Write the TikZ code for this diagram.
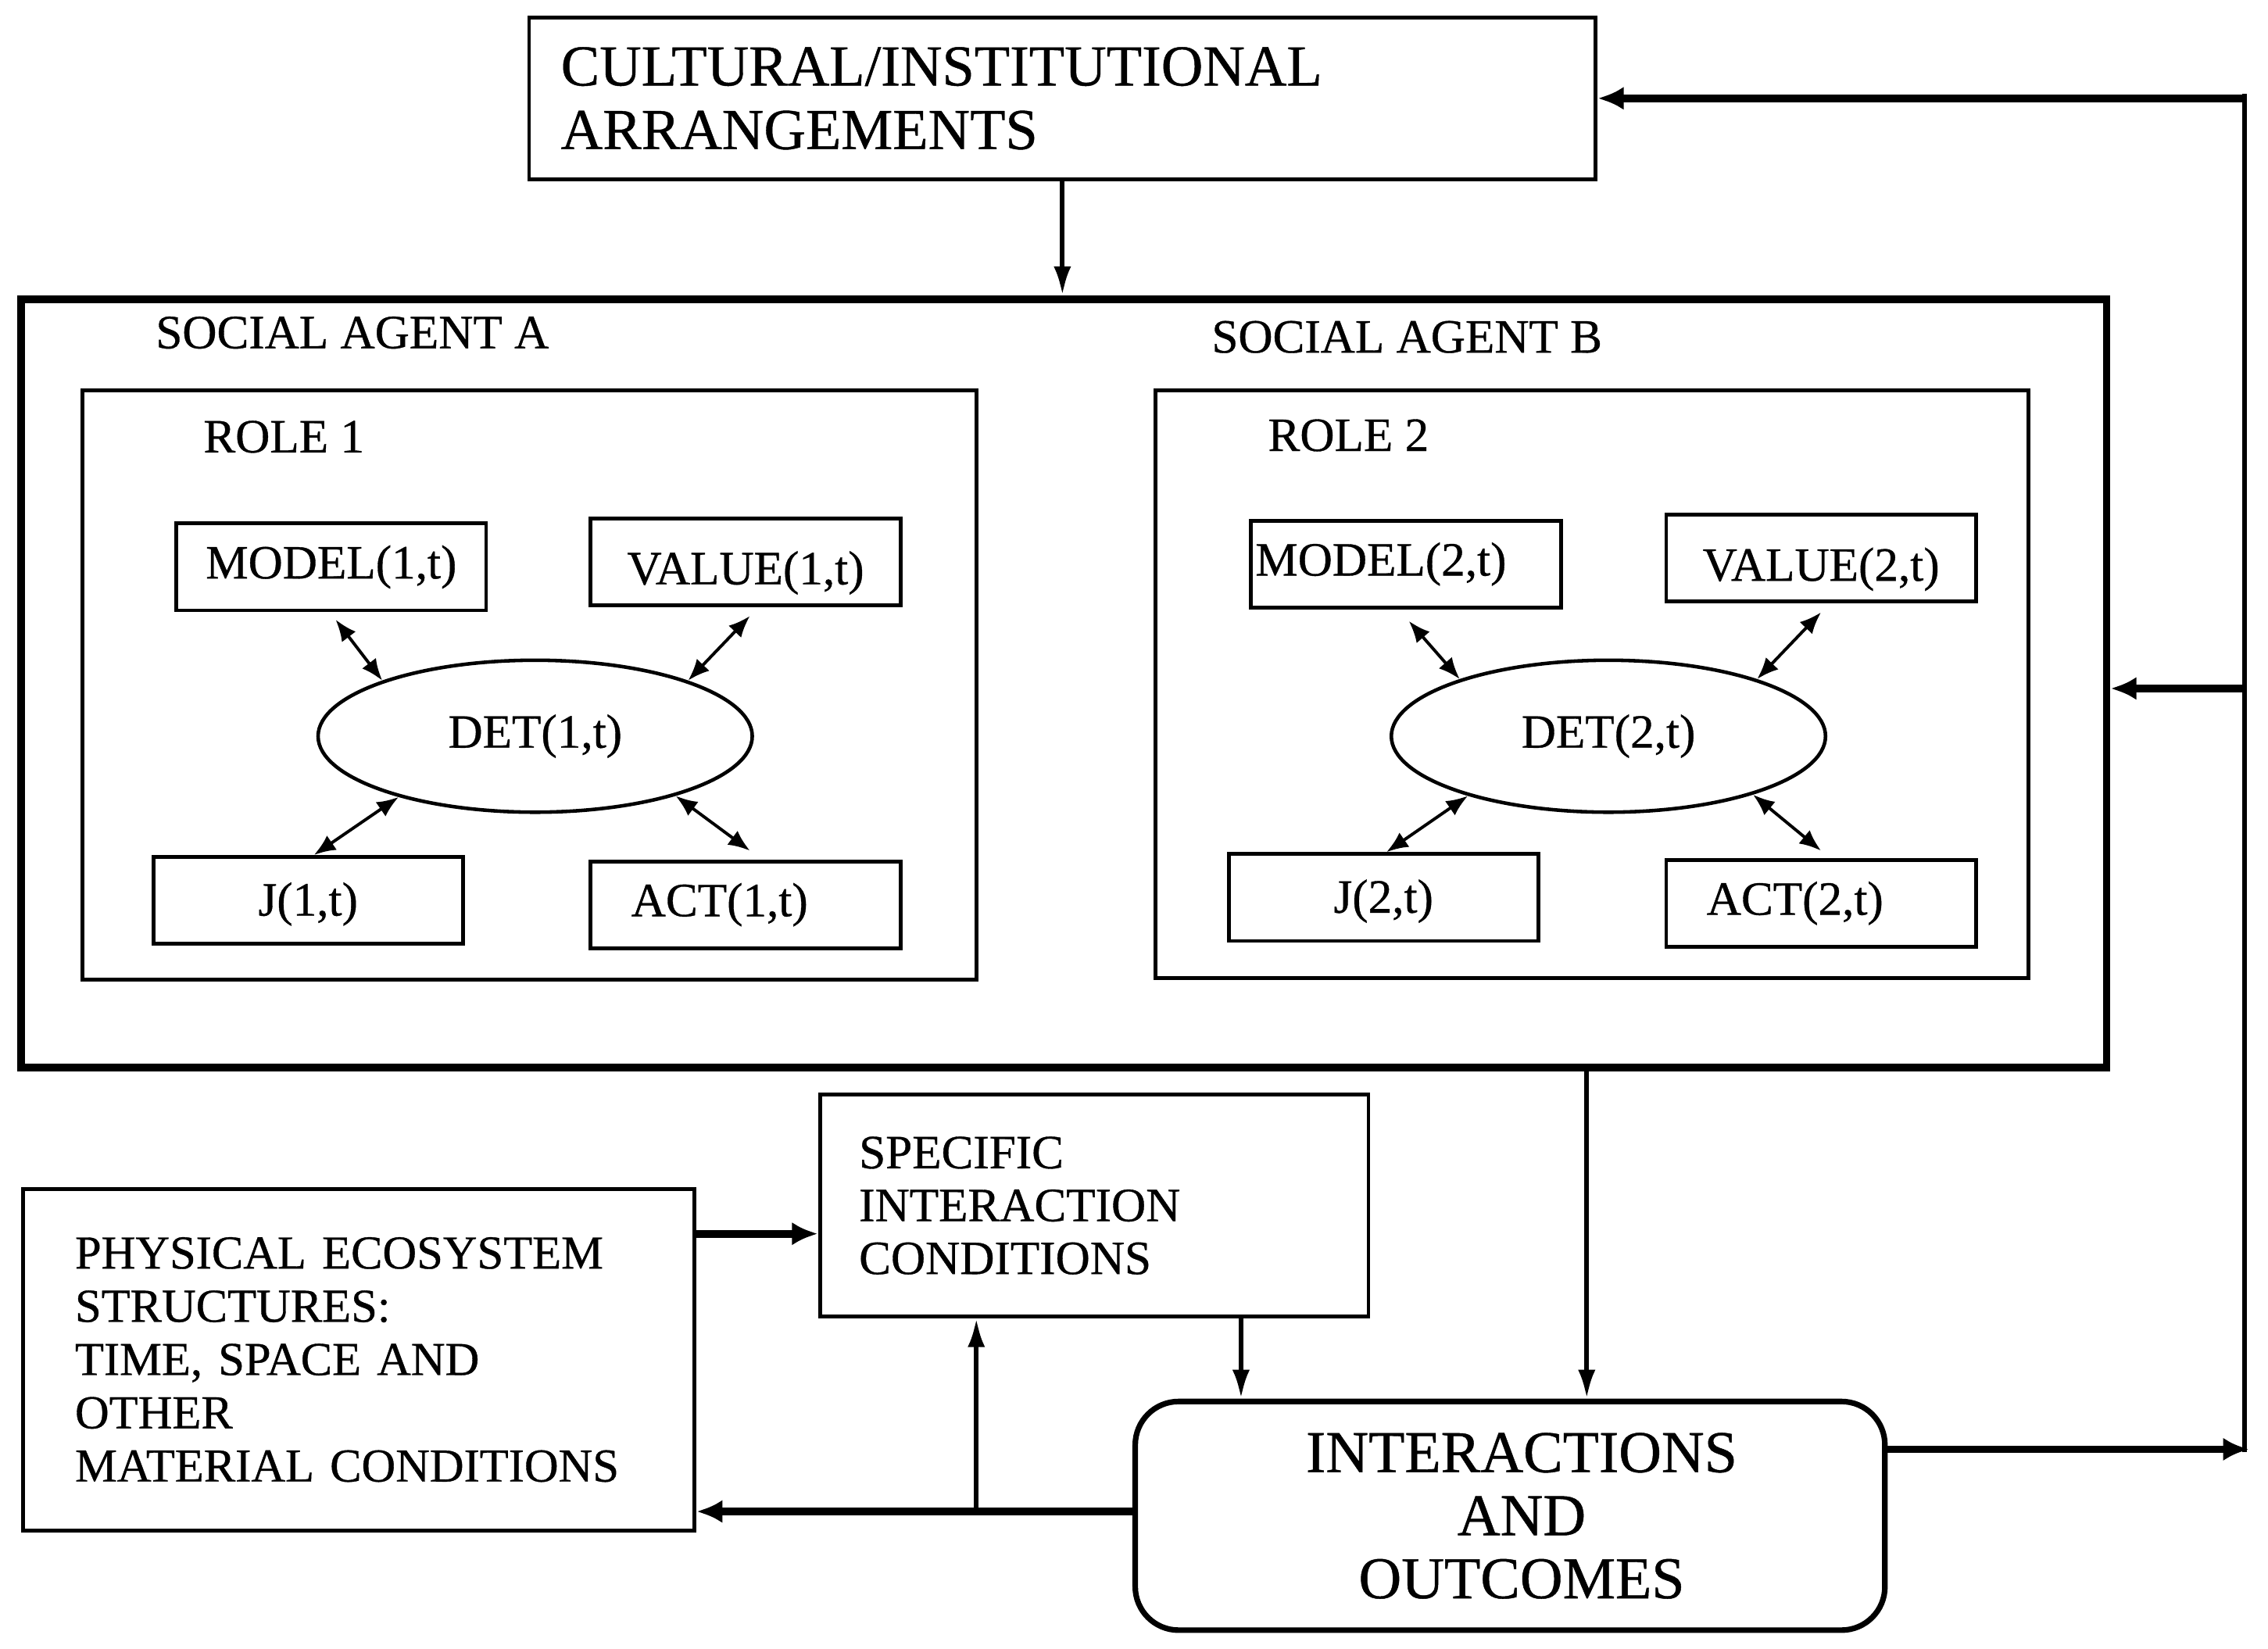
\documentclass[tikz,border=0pt]{standalone}
\usepackage{fontspec}
\setmainfont{Liberation Serif}[UprightFeatures={FakeBold=0.6}]
\usetikzlibrary{shapes.geometric,arrows.meta,calc}
\begin{document}
\begin{tikzpicture}[x=0.01cm,y=-0.01cm,
  box/.style={draw,line width=0.75pt,rectangle,inner sep=0pt},
  smallbox/.style={box,minimum width=2.14cm,minimum height=0.6cm,font=\fontsize{9.4}{11}\selectfont},
  lowtext/.style={text height=0.38cm,text depth=0.07cm},
  detell/.style={draw,ellipse,line width=0.7pt,minimum width=3.0cm,minimum height=1.05cm,inner sep=0pt,font=\fontsize{9.4}{11}\selectfont},
  lbl/.style={anchor=west,inner sep=0pt,font=\fontsize{9.4}{11}\selectfont},
  dbl/.style={{Latex[length=0.15cm,width=0.12cm]}-{Latex[length=0.15cm,width=0.12cm]},line width=0.6pt},
  arrmid/.style={-{Latex[length=0.2cm,width=0.12cm]},line width=0.9pt},
  arrthick/.style={-{Latex[length=0.18cm,width=0.16cm]},line width=1.5pt}
]
\useasboundingbox (0,0) rectangle (1568,1140);

% top box
\node[box,minimum width=7.37cm,minimum height=1.12cm,text width=6.93cm,align=left,
  font=\fontsize{11.4}{12.5}\selectfont] (top) at (734.5,68) {CULTURAL/INSTITUTIONAL\\ARRANGEMENTS};

% big social-agent box
\node[draw,line width=1.5pt,rectangle,inner sep=0pt,minimum width=14.41cm,minimum height=5.31cm] (big) at (735.5,472.5) {};
\node[lbl] (sa) at (107,230) {SOCIAL AGENT A};
\node[lbl] (sb) at (837,233) {SOCIAL AGENT B};

% role boxes
\node[box,minimum width=6.18cm,minimum height=4.07cm] (r1) at (366,473.5) {};
\node[box,minimum width=6.03cm,minimum height=4.06cm] (r2) at (1100.5,473) {};
\node[lbl] (r1l) at (140,302) {ROLE 1};
\node[lbl] (r2l) at (876,301) {ROLE 2};

% role 1 contents
\node[smallbox] (m1) at (229,392) {MODEL(1,t)};
\node[smallbox,lowtext] (v1) at (515.5,388.5) {VALUE(1,t)};
\node[detell] (d1) at (370,509) {DET(1,t)};
\node[smallbox,text height=0.28cm,text depth=0.07cm] (j1) at (213,622.5) {J(1,t)};
\node[smallbox,text width=1.58cm,align=left] (a1) at (515.5,625.5) {ACT(1,t)};

% role 2 contents
\node[smallbox,text width=2.08cm,align=left] (m2) at (972,390) {MODEL(2,t)};
\node[smallbox,lowtext] (v2) at (1259,386) {VALUE(2,t)};
\node[detell] (d2) at (1112,509) {DET(2,t)};
\node[smallbox,text height=0.28cm,text depth=0.07cm] (j2) at (956.5,620.5) {J(2,t)};
\node[smallbox,text width=1.58cm,align=left] (a2) at (1259,624.5) {ACT(2,t)};

% double arrows role 1
\draw[dbl] ([xshift=0.03cm,yshift=-0.05cm]m1.south) -- (d1.160);
\draw[dbl] ([xshift=0.03cm,yshift=-0.06cm]v1.south) -- (d1.20);
\draw[dbl] ([xshift=0.04cm]j1.north) -- (d1.204);
\draw[dbl] (d1.-23) -- ([xshift=0.03cm,yshift=0.06cm]a1.north);
% double arrows role 2
\draw[dbl] ([xshift=0.02cm,yshift=-0.08cm]m2.south) -- (d2.159);
\draw[dbl] ([yshift=-0.06cm]v2.south) -- (d2.21);
\draw[dbl] ([xshift=0.02cm]j2.north) -- (d2.203);
\draw[dbl] (d2.-22) -- ([yshift=0.05cm]a2.north);

% bottom boxes
\node[box,minimum width=3.79cm,minimum height=1.53cm,text width=3.25cm,align=left,
  font=\fontsize{9.4}{10.4}\selectfont] (spec) at (756.5,833.5) {SPECIFIC\\INTERACTION\\CONDITIONS};
\node[box,minimum width=4.64cm,minimum height=2.36cm,text width=3.92cm,align=left,
  font=\fontsize{9.3}{10.47}\selectfont] (phys) at (248,940) {PHYSICAL ECOSYSTEM\\STRUCTURES:\\TIME, SPACE AND\\OTHER\\MATERIAL CONDITIONS};
\node[draw,line width=1.1pt,rectangle,rounded corners=0.3cm,inner sep=0pt,
  minimum width=5.18cm,minimum height=1.58cm,align=center,
  font=\fontsize{11.65}{12.4}\selectfont] (inter) at (1044,1048) {\hspace*{0.16cm}INTERACTIONS\\\hspace*{0.16cm}AND\\\hspace*{0.16cm}OUTCOMES};

% helper coordinates
\coordinate (bx) at (1097,0);
\coordinate (sx) at (858,0);
\coordinate (ux) at (675,0);
\coordinate (py) at (0,853);
\coordinate (ly) at (0,1045);
\coordinate (fb) at (1552,1002);
\coordinate (by) at (0,476);

% connectors
\draw[arrmid] (top.south) -- (top.south |- big.north);
\draw[arrthick] (phys.east |- py) -- (spec.west |- py);
\draw[arrmid] (big.south -| bx) -- (inter.north -| bx);
\draw[arrmid] (spec.south -| sx) -- (inter.north -| sx);
\draw[arrthick] (inter.west |- ly) -- (phys.east |- ly);
\draw[arrmid] (ly -| ux) -- (spec.south -| ux);
\draw[arrthick] (inter.east |- fb) -- ([xshift=0.03cm]fb);
\draw[line width=0.9pt] ([yshift=-0.02cm]fb) -- ([yshift=0.03cm]fb |- top.east);
\draw[arrthick] (fb |- top.east) -- (top.east);
\draw[arrthick] (fb |- by) -- (big.east |- by);
\end{tikzpicture}
\end{document}
